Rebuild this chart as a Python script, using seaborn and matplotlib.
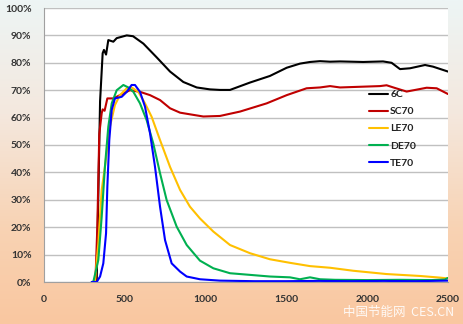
import numpy as np
import pandas as pd
import matplotlib
matplotlib.use("Agg")
import matplotlib.pyplot as plt
from matplotlib.colors import LinearSegmentedColormap
import seaborn as sns

# ---- data (wavelength, transmittance %) ----
x_6c = [296, 326, 347, 363, 371, 384, 398, 429, 450, 512, 551, 615, 697, 780, 862, 945, 1027, 1089, 1151,
        1275, 1398, 1502, 1584, 1646, 1708, 1770, 1832, 1975, 2098, 2151, 2203, 2265, 2358, 2407, 2500]
y_6c = [0, 0, 66, 83.5, 84.7, 83, 88.3, 87.7, 89, 90, 89.7, 87, 82, 76.8, 73, 71, 70.3, 70.1, 70.1,
        72.8, 75.2, 78.2, 79.7, 80.3, 80.6, 80.4, 80.5, 80.3, 80.5, 80, 77.7, 78, 79.2, 78.6, 76.8]

x_sc = [296, 318, 330, 342, 357, 363, 375, 392, 429, 470, 532, 594, 656, 718, 780, 842, 903, 986, 1089,
        1213, 1378, 1502, 1625, 1708, 1770, 1832, 2079, 2120, 2162, 2244, 2368, 2430, 2500]
y_sc = [0, 0, 20, 54, 61.6, 63, 62.5, 67, 67, 68.2, 70, 69.4, 68.2, 66.4, 63.4, 61.8, 61.2, 60.4, 60.6,
        62.2, 65.2, 68.2, 70.7, 71, 71.5, 71, 71.5, 71.8, 71, 69.5, 70.9, 70.7, 68.6]

x_le = [296, 315, 336, 357, 377, 408, 439, 470, 512, 542, 584, 625, 666, 718, 780, 842, 903, 965, 1048,
        1151, 1275, 1398, 1522, 1646, 1770, 1914, 2120, 2327, 2450, 2500]
y_le = [0, 0, 14, 33.6, 42, 56.7, 64.6, 68.2, 70.7, 71, 69.4, 65.2, 60.3, 51.8, 42, 33.6, 27.5, 23.2, 18.4,
        13.5, 10.5, 8.3, 7, 5.8, 5.2, 4.1, 2.9, 2.2, 1.6, 1.3]

x_de = [296, 305, 336, 357, 377, 398, 419, 450, 491, 522, 553, 594, 635, 676, 718, 759, 821, 883, 965,
        1048, 1151, 1275, 1398, 1522, 1584, 1646, 1708, 1800, 2000, 2200, 2400, 2480, 2500]
y_de = [0, 0, 8, 23.8, 42, 56.7, 65.2, 70, 71.9, 71, 69.4, 65.2, 59.1, 50.6, 39.7, 29.9, 20.2, 13.5, 7.8,
        5, 3.2, 2.6, 2, 1.7, 1, 1.7, 1, 0.8, 0.7, 0.8, 0.7, 0.9, 1.5]

x_te = [296, 326, 347, 367, 384, 392, 404, 419, 439, 481, 512, 542, 563, 594, 625, 656, 687, 718, 749,
        790, 842, 883, 965, 1089, 1300, 1500, 1700, 1900, 2100, 2300, 2500]
y_te = [0, 0, 2, 6.8, 17.8, 34.8, 51.8, 62.8, 67, 67.6, 69.4, 71.9, 71.9, 69.4, 64, 54.3, 42, 27.5, 15.3,
        6.8, 3.8, 2, 1, 0.5, 0.3, 0.3, 0.4, 0.3, 0.4, 0.3, 0.5]

labels = ["6C", "SC70", "LE70", "DE70", "TE70"]
colors = ["#000000", "#C00000", "#FFC000", "#00B050", "#0000FF"]
series = [(x_6c, y_6c), (x_sc, y_sc), (x_le, y_le), (x_de, y_de), (x_te, y_te)]

frames = []
for lab, (xs, ys) in zip(labels, series):
    frames.append(pd.DataFrame({"wl": xs, "T": np.array(ys) / 100.0, "s": lab}))
df = pd.concat(frames, ignore_index=True)

x_ticks = [0, 500, 1000, 1500, 2000, 2500]
y_ticks = [i / 10 for i in range(11)]
y_ticklabels = [f"{i * 10}%" for i in range(11)]

# ---- figure ----
sns.set_theme(style="white")
plt.rcParams['font.family'] = ['Lato', 'DejaVu Sans']

fig = plt.figure(figsize=(4.64, 3.24), dpi=100)

# gradient background
bg = fig.add_axes([0, 0, 1, 1], zorder=0)
cmap = LinearSegmentedColormap.from_list(
    "bg", [(0.0, "#EDF5F5"), (0.35, "#F4E8DE"), (0.7, "#F8D3B4"), (1.0, "#FAC7A0")])
grad = np.linspace(0, 1, 256).reshape(-1, 1)
bg.imshow(grad, aspect="auto", cmap=cmap, extent=[0, 1, 1, 0])
bg.set_axis_off()

W, H = 464, 324
ax = fig.add_axes([44 / W, 1 - 282 / H, (448 - 44) / W, (282 - 8) / H], zorder=1)
ax.set_facecolor("white")

sns.lineplot(data=df, x="wl", y="T", hue="s", hue_order=labels, palette=colors,
             linewidth=1.5, ax=ax, sort=False, estimator=None)

ax.set_xlim(0, 2500)
ax.set_ylim(0, 1.0)
ax.set_xticks(x_ticks)
ax.set_xticklabels([str(t) for t in x_ticks])
ax.set_yticks(y_ticks)
ax.set_yticklabels(y_ticklabels)
ax.set_xlabel("")
ax.set_ylabel("")
ax.grid(axis="y", color="#C0C0C0", linewidth=1)
ax.set_axisbelow(True)
for side in ["top", "right"]:
    ax.spines[side].set_visible(False)
for side in ["left", "bottom"]:
    ax.spines[side].set_color("#A0A0A0")
    ax.spines[side].set_linewidth(0.8)
ax.tick_params(axis="both", which="both", length=3, color="#A0A0A0", labelsize=7.5,
               labelcolor="#333333", direction="out", pad=6)
for lab in ax.get_xticklabels() + ax.get_yticklabels():
    lab.set_fontweight("bold")

leg = ax.legend(loc="upper left", bbox_to_anchor=(0.795, 0.716), frameon=False,
                fontsize=7.5, handlelength=1.8, handletextpad=0.2, labelspacing=0.75,
                borderaxespad=0)
for t in leg.get_texts():
    t.set_fontweight("bold")
    t.set_color("#222222")

# watermark
fig.text(0.86, 0.035, "中国节能网  CES.CN", family=["Noto Sans CJK SC", "DejaVu Sans"], fontsize=9,
         color="white", alpha=0.9, ha="center", va="center", zorder=5)

fig.savefig("out.png", dpi=100)
